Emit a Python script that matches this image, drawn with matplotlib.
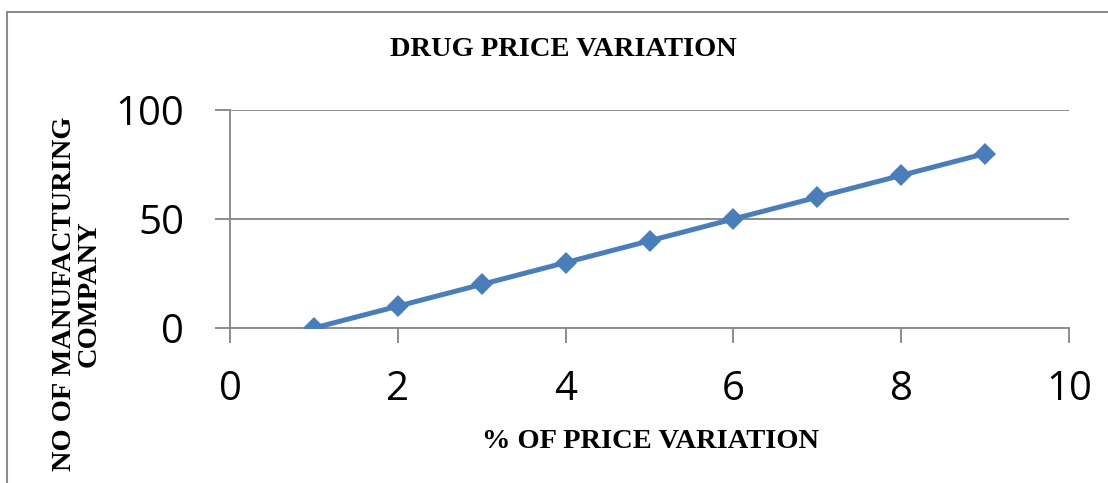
import matplotlib
matplotlib.use("Agg")
import matplotlib.pyplot as plt
from matplotlib.patches import Rectangle

# data
price_variation = [1, 2, 3, 4, 5, 6, 7, 8, 9]
companies = [0, 10, 20, 30, 40, 50, 60, 70, 80]
x_ticks = [0, 2, 4, 6, 8, 10]
y_ticks = [0, 50, 100]

line_color = "#4A7EBB"
grid_color = "#8C8C8C"

fig = plt.figure(figsize=(11.08, 4.83), dpi=100)
ax = fig.add_axes([230 / 1108, 1 - 328 / 483, (1069 - 230) / 1108, (328 - 110) / 483])

ax.plot(price_variation, companies, color=line_color, linewidth=3.6,
        marker="D", markersize=11, markeredgewidth=0, zorder=3)

ax.set_xlim(0, 10)
ax.set_ylim(0, 100)
ax.set_xticks(x_ticks)
ax.set_yticks(y_ticks)

# horizontal gridlines like excel
ax.grid(axis="y", color=grid_color, linewidth=1.4)
ax.set_axisbelow(True)

for side in ["top", "right"]:
    ax.spines[side].set_visible(False)
for side in ["left", "bottom"]:
    ax.spines[side].set_color(grid_color)
    ax.spines[side].set_linewidth(1.4)

ax.tick_params(axis="both", direction="out", length=11, width=1.4, color=grid_color,
               labelsize=29)
ax.tick_params(axis="y", pad=22)
ax.tick_params(axis="x", pad=19)
for lbl in ax.get_xticklabels() + ax.get_yticklabels():
    lbl.set_fontfamily("Open Sans")

# titles in bold serif
fig.text(563 / 1108, 1 - 49 / 483, "DRUG PRICE VARIATION", ha="center", va="center",
         fontsize=20.5, fontweight="bold", family="Liberation Serif")
fig.text(650 / 1108, 1 - 441 / 483, "% OF PRICE VARIATION", ha="center", va="center",
         fontsize=20.5, fontweight="bold", family="Liberation Serif")
fig.text(77 / 1108, 1 - 294 / 483, "NO OF MANUFACTURING\nCOMPANY", ha="center", va="center",
         rotation=90, multialignment="center", linespacing=0.98,
         fontsize=20.5, fontweight="bold", family="Liberation Serif")

# outer chart frame, cut by the picture edge on the right and bottom
frame = Rectangle((7 / 1108, -0.2), 1.5, 1.2 - 12 / 483, transform=fig.transFigure,
                  fill=False, edgecolor=grid_color, linewidth=1.5)
fig.patches.append(frame)

fig.savefig("out.png", dpi=100)
